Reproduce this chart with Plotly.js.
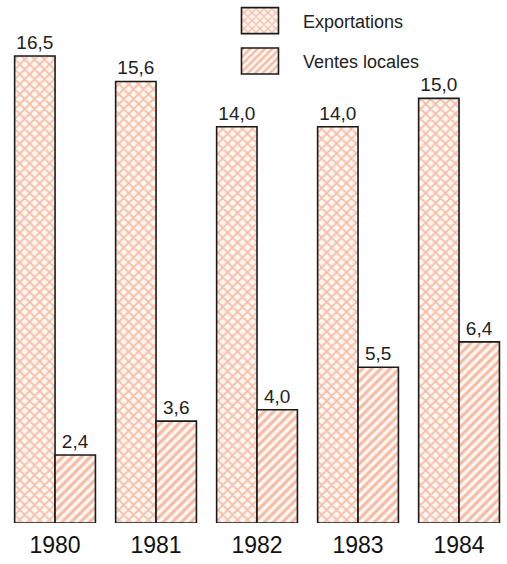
<!DOCTYPE html>
<html><head><meta charset="utf-8">
<script src="https://cdn.plot.ly/plotly-3.0.1.min.js"></script>
<style>body{margin:0;background:#fff}</style></head>
<body><div id="chart" style="width:507px;height:564px"></div>
<script>
const years = ['1980','1981','1982','1983','1984'];
const exportations = [16.5, 15.6, 14.0, 14.0, 15.0];
const ventesLocales = [2.4, 3.6, 4.0, 5.5, 6.4];
const seriesNames = ['Exportations', 'Ventes locales'];
const fmt = v => v.toFixed(1).replace('.', ',');

const hatch = '#e9825e';
const bg = '#fff7f1';
const labelFont = {family: 'Liberation Sans, Arial, sans-serif', size: 19, color: '#222'};

const traces = [
  {type: 'bar', name: seriesNames[0], x: years, y: exportations, legendgroup: 'a',
   text: exportations.map(fmt), textposition: 'outside', textfont: labelFont, cliponaxis: false,
   marker: {color: bg, line: {color: '#1a1a1a', width: 1.6},
            pattern: {shape: 'x', fgcolor: hatch, bgcolor: bg, size: 7, solidity: 0.45, fillmode: 'overlay'}}},
  {type: 'bar', name: seriesNames[1], x: years, y: ventesLocales, legendgroup: 'b',
   text: ventesLocales.map(fmt), textposition: 'outside', textfont: labelFont, cliponaxis: false,
   marker: {color: bg, line: {color: '#1a1a1a', width: 1.6},
            pattern: {shape: '/', fgcolor: hatch, bgcolor: bg, size: 6.5, solidity: 0.48, fillmode: 'overlay'}}}
];

const layout = {
  width: 507, height: 564,
  margin: {l: 0, r: 0, t: 5, b: 41},
  paper_bgcolor: '#fff', plot_bgcolor: '#fff',
  barmode: 'group', bargap: 0.2, bargroupgap: 0,
  showlegend: true,
  legend: {x: 0.428, y: 1.005, xanchor: 'left', yanchor: 'top', bgcolor: 'rgba(0,0,0,0)',
           font: {family: 'Liberation Sans, Arial, sans-serif', size: 18, color: '#222'},
           itemwidth: 76, tracegroupgap: 14, traceorder: 'grouped'},
  xaxis: {type: 'category', range: [-0.545, 4.475], showgrid: false, zeroline: false, showline: false,
          ticks: '', ticklabelstandoff: 6,
          tickfont: {family: 'Liberation Sans, Arial, sans-serif', size: 23, color: '#111'}},
  yaxis: {range: [0, 18.3], visible: false, showgrid: false, zeroline: false},
  font: {family: 'Liberation Sans, Arial, sans-serif'}
};

Plotly.newPlot('chart', traces, layout, {displayModeBar: false, staticPlot: true}).then(() => {
  document.querySelectorAll('.legendpoints path').forEach(p => {
    p.setAttribute('d', 'M18.5,13H-18.5V-13H18.5Z');
  });
});
</script></body></html>
